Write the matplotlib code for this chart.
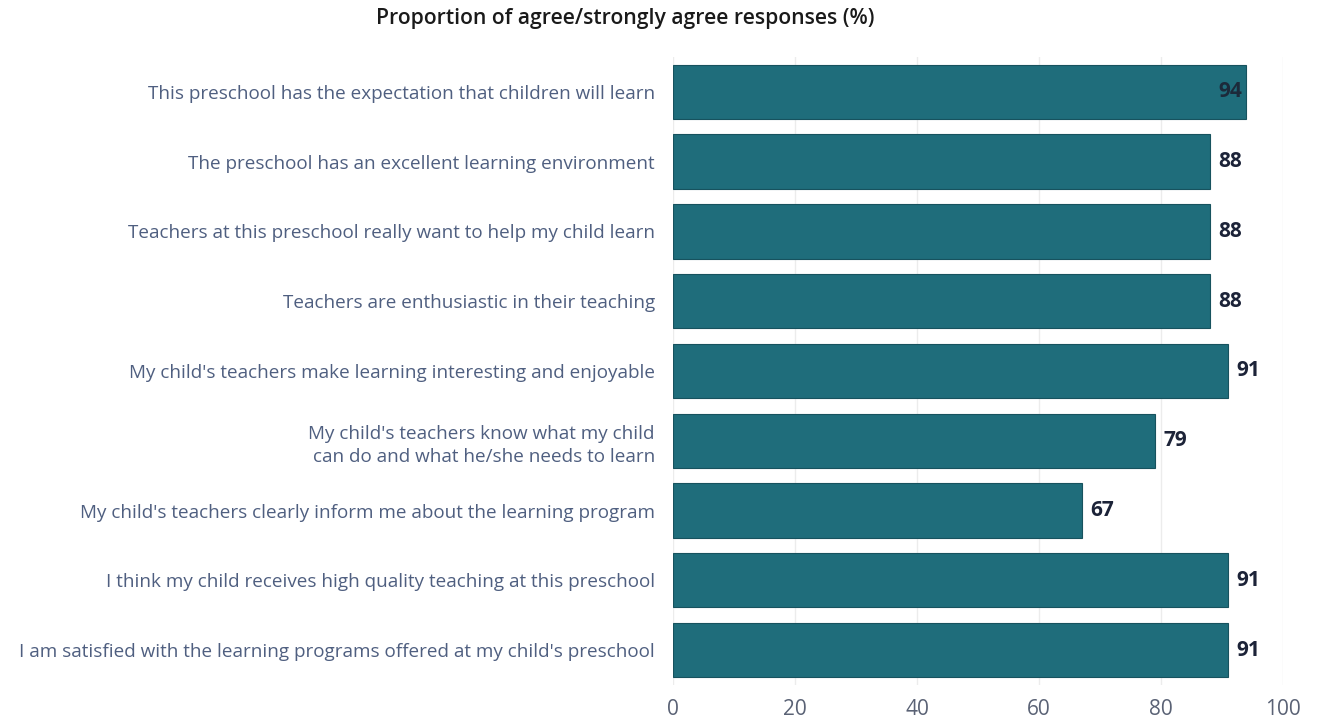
import numpy as np
import matplotlib.pyplot as plt

# survey items, top to bottom
items = [
    "This preschool has the expectation that children will learn",
    "The preschool has an excellent learning environment",
    "Teachers at this preschool really want to help my child learn",
    "Teachers are enthusiastic in their teaching",
    "My child's teachers make learning interesting and enjoyable",
    "My child's teachers know what my child\ncan do and what he/she needs to learn",
    "My child's teachers clearly inform me about the learning program",
    "I think my child receives high quality teaching at this preschool",
    "I am satisfied with the learning programs offered at my child's preschool",
]
pct = [94, 88, 88, 88, 91, 79, 67, 91, 91]
xticks = [0, 20, 40, 60, 80, 100]

plt.rcParams['font.family'] = ['Open Sans', 'DejaVu Sans']

fig = plt.figure(figsize=(13.22, 7.21), dpi=100)
ax = fig.add_axes([0.509, 0.050, 0.4615, 0.871])

ypos = np.arange(len(items))
ax.barh(ypos, pct, height=0.78, color='#1f6d7b', edgecolor='#17525e', linewidth=0.8, zorder=2)

for y, v in zip(ypos, pct):
    if v >= 93:
        ax.text(v - 0.6, y, str(v), ha='right', va='center', fontsize=15,
                fontweight='bold', color='#1c2a3a', zorder=3)
    else:
        ax.text(v + 1.4, y, str(v), ha='left', va='center', fontsize=15,
                fontweight='bold', color='#1c2338', zorder=3)

ax.set_xlim(0, 100)
ax.set_ylim(len(items) - 0.5, -0.5)
ax.set_xticks(xticks)
ax.set_xticklabels([str(t) for t in xticks], fontsize=15, color='#5a6275')
ax.set_yticks(ypos)
ax.set_yticklabels(items, fontsize=13.6, color='#4f5f80', linespacing=1.4)
ax.tick_params(axis='both', length=0)
ax.tick_params(axis='y', pad=13)
ax.tick_params(axis='x', pad=10)

ax.grid(axis='x', color='#ececec', linewidth=1, zorder=0)
for s in ax.spines.values():
    s.set_visible(False)

fig.text(0.473, 0.975, "Proportion of agree/strongly agree responses (%)", ha='center', va='center',
         fontsize=15.2, fontweight='semibold', color='#1a1a1a')

fig.savefig('out.png', dpi=100)
